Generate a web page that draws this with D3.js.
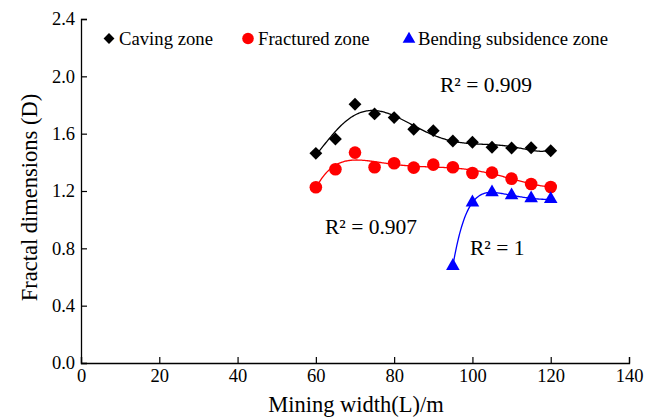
<!DOCTYPE html>
<html>
<head>
<meta charset="utf-8">
<script src="https://cdn.jsdelivr.net/npm/d3@7"></script>
<style>
  body { margin: 0; background: #fff; }
  svg, svg text { font-family: "Liberation Serif", "Times New Roman", serif; }
</style>
</head>
<body>
<div id="chart"></div>
<script>
// data
const widths = [60, 65, 70, 75, 80, 85, 90, 95, 100, 105, 110, 115, 120];
const caving = [1.463, 1.563, 1.805, 1.738, 1.712, 1.631, 1.621, 1.549, 1.540, 1.505, 1.500, 1.502, 1.481];
const fractured = [1.226, 1.352, 1.468, 1.366, 1.394, 1.363, 1.384, 1.366, 1.326, 1.328, 1.286, 1.249, 1.228];
const bendingWidths = [95, 100, 105, 110, 115, 120];
const bending = [0.677, 1.120, 1.190, 1.170, 1.149, 1.144];
const xTicks = [0, 20, 40, 60, 80, 100, 120, 140];
const yTicks = [0.0, 0.4, 0.8, 1.2, 1.6, 2.0, 2.4];
const r2Labels = ["R² = 0.909", "R² = 0.907", "R² = 1"];

const W = 657, H = 418;
const margin = { top: 19, right: 28, bottom: 55, left: 81 };
const width = W - margin.left - margin.right;
const height = H - margin.top - margin.bottom;

const svg = d3.select('#chart')
  .append('svg')
  .attr('width', W)
  .attr('height', H);

const g = svg.append('g')
  .attr('transform', `translate(${margin.left},${margin.top})`);

const x = d3.scaleLinear().domain([0, 140]).range([0, width]);
const y = d3.scaleLinear().domain([0, 2.4]).range([height, 0]);

// least squares polynomial fit (trend lines like the spreadsheet ones)
function polyFit(xs, ys, deg) {
  const c = 90, s = 30;
  const n = deg + 1;
  const A = Array.from({ length: n }, () => new Array(n + 1).fill(0));
  xs.forEach((xv, k) => {
    const t = (xv - c) / s;
    for (let i = 0; i < n; i++) {
      for (let j = 0; j < n; j++) A[i][j] += Math.pow(t, i + j);
      A[i][n] += ys[k] * Math.pow(t, i);
    }
  });
  for (let i = 0; i < n; i++) {
    let p = i;
    for (let r = i + 1; r < n; r++) if (Math.abs(A[r][i]) > Math.abs(A[p][i])) p = r;
    [A[i], A[p]] = [A[p], A[i]];
    for (let r = 0; r < n; r++) {
      if (r === i) continue;
      const f = A[r][i] / A[i][i];
      for (let j = i; j <= n; j++) A[r][j] -= f * A[i][j];
    }
  }
  const coef = A.map((row, i) => row[n] / row[i]);
  return xv => {
    const t = (xv - c) / s;
    return coef.reduce((acc, a, i) => acc + a * Math.pow(t, i), 0);
  };
}

const line = d3.line().x(d => x(d[0])).y(d => y(d[1]));

function drawFit(xs, ys, deg, color) {
  const f = polyFit(xs, ys, deg);
  const lo = d3.min(xs), hi = d3.max(xs);
  const pts = d3.range(lo, hi + 0.001, 0.25).map(v => [v, f(v)]);
  g.append('path')
    .datum(pts)
    .attr('fill', 'none')
    .attr('stroke', color)
    .attr('stroke-width', 1.3)
    .attr('d', line);
}

drawFit(widths, caving, 6, '#000');
drawFit(widths, fractured, 6, '#ff0000');
drawFit(bendingWidths, bending, 5, '#0000ff');

// markers
const diamond = d3.symbol().type(d3.symbolDiamond2);
const tri = d3.symbol().type(d3.symbolTriangle);

g.selectAll('.cav')
  .data(widths.map((w, i) => [w, caving[i]]))
  .enter().append('path')
  .attr('d', diamond.size(105)())
  .attr('transform', d => `translate(${x(d[0])},${y(d[1])})`)
  .attr('fill', '#000');

g.selectAll('.frac')
  .data(widths.map((w, i) => [w, fractured[i]]))
  .enter().append('circle')
  .attr('cx', d => x(d[0]))
  .attr('cy', d => y(d[1]))
  .attr('r', 6.3)
  .attr('fill', '#ff0000');

g.selectAll('.bend')
  .data(bendingWidths.map((w, i) => [w, bending[i]]))
  .enter().append('path')
  .attr('d', tri.size(80)())
  .attr('transform', d => `translate(${x(d[0])},${y(d[1])})`)
  .attr('fill', '#0000ff');

// axes, ticks inside
const xAxis = g.append('g')
  .attr('transform', `translate(0,${height})`)
  .call(d3.axisBottom(x).tickValues(xTicks).tickSize(-6).tickPadding(6).tickFormat(d3.format('d')));

const yAxis = g.append('g')
  .call(d3.axisLeft(y).tickValues(yTicks).tickSize(-6).tickPadding(6).tickFormat(d3.format('.1f')));

[xAxis, yAxis].forEach(a => {
  a.attr('font-family', '"Liberation Serif", serif').attr('font-size', 18.5);
  a.select('.domain').attr('stroke', '#000').attr('stroke-width', 1.3);
  a.selectAll('.tick line').attr('stroke', '#000').attr('stroke-width', 1.2);
  a.selectAll('text')
    .style('font-family', '"Liberation Serif", serif')
    .style('font-size', '18.5px')
    .attr('fill', '#000');
});

// axis titles
svg.append('text')
  .attr('x', 356)
  .attr('y', 412)
  .attr('text-anchor', 'middle')
  .attr('font-size', 22.5)
  .text('Mining width(L)/m');

svg.append('text')
  .attr('transform', 'translate(36.5,197.5) rotate(-90)')
  .attr('text-anchor', 'middle')
  .attr('font-size', 22.5)
  .text('Fractal dimensions (D)');

// R² labels
const r2Pos = [[440, 92], [325, 234], [470, 255]];
svg.selectAll('.r2')
  .data(r2Labels)
  .enter().append('text')
  .attr('x', (d, i) => r2Pos[i][0])
  .attr('y', (d, i) => r2Pos[i][1])
  .attr('font-size', 21.5)
  .text(d => d);

// legend
const legend = svg.append('g').attr('font-size', 18.7);
legend.append('path')
  .attr('d', diamond.size(75)())
  .attr('transform', 'translate(109,38.5)');
legend.append('text').attr('x', 119).attr('y', 45).text('Caving zone');
legend.append('circle').attr('cx', 248).attr('cy', 38.5).attr('r', 5.8).attr('fill', '#ff0000');
legend.append('text').attr('x', 258).attr('y', 45).text('Fractured zone');
legend.append('path')
  .attr('d', tri.size(70)())
  .attr('transform', 'translate(409,39)')
  .attr('fill', '#0000ff');
legend.append('text').attr('x', 418).attr('y', 45).text('Bending subsidence zone');
</script>
</body>
</html>
